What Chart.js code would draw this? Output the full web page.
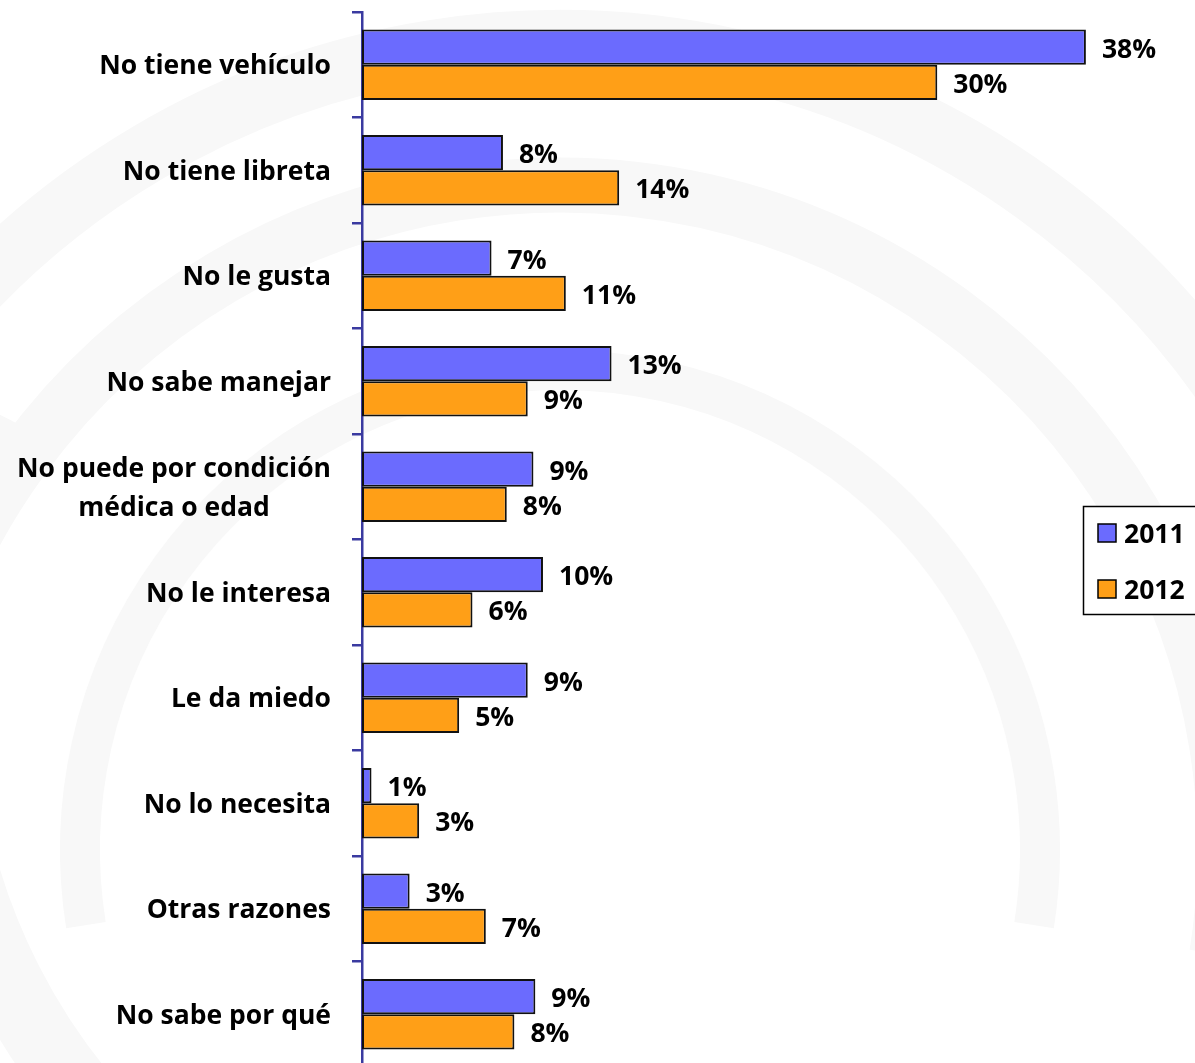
<!DOCTYPE html>
<html>
<head>
<meta charset="utf-8">
<script src="https://cdn.jsdelivr.net/npm/chart.js@4.4.0/dist/chart.umd.min.js"></script>
<style>
  html, body { margin: 0; padding: 0; background: #ffffff; overflow: hidden; }
  #wrap { width: 1195px; height: 1063px; overflow: hidden; position: relative; }
  canvas { display: block; }
</style>
</head>
<body>
<div id="wrap"><canvas id="c" width="1195" height="1070"></canvas></div>
<script>
const categories = [
  'No tiene vehículo',
  'No tiene libreta',
  'No le gusta',
  'No sabe manejar',
  ['No puede por condición', 'médica o edad'],
  'No le interesa',
  'Le da miedo',
  'No lo necesita',
  'Otras razones',
  'No sabe por qué'
];
const seriesNames = ['2011', '2012'];
const values2011 = [38.0, 7.4, 6.8, 13.1, 9.0, 9.5, 8.7, 0.5, 2.5, 9.1];
const values2012 = [30.2, 13.5, 10.7, 8.7, 7.6, 5.8, 5.1, 3.0, 6.5, 8.0];
const labels2011 = ['38%', '8%', '7%', '13%', '9%', '10%', '9%', '1%', '3%', '9%'];
const labels2012 = ['30%', '14%', '11%', '9%', '8%', '6%', '5%', '3%', '7%', '8%'];

const FONT = '"Open Sans", Lato, sans-serif';
const FSIZE = 26.5;

const background = {
  id: 'background',
  beforeDraw(chart) {
    const ctx = chart.ctx;
    ctx.save();
    ctx.fillStyle = '#ffffff';
    ctx.fillRect(0, 0, chart.width, chart.height);
    ctx.strokeStyle = '#f8f8f8';
    const cx = 560, cy = 850;
    [[480, 40], [665, 55], [810, 60]].forEach(([r, w]) => {
      ctx.lineWidth = w;
      ctx.beginPath(); ctx.arc(cx, cy, r, Math.PI * 0.95, Math.PI * 2.05); ctx.stroke();
    });
    ctx.lineWidth = 70;
    ctx.beginPath(); ctx.arc(560, 700, 620, Math.PI * 0.6, Math.PI * 1.15); ctx.stroke();
    ctx.restore();
  }
};

const categoryLabels = {
  id: 'categoryLabels',
  afterDraw(chart) {
    const ctx = chart.ctx;
    const y = chart.scales.y;
    const right = y.right - 31;
    ctx.save();
    ctx.font = 'bold ' + FSIZE + 'px ' + FONT;
    ctx.fillStyle = '#000000';
    ctx.textAlign = 'center';
    ctx.textBaseline = 'middle';
    const lh = 39;
    categories.forEach((lab, i) => {
      const lines = Array.isArray(lab) ? lab : [lab];
      const w = Math.max(...lines.map(l => ctx.measureText(l).width));
      const cx = right - w / 2;
      const cy = y.getPixelForValue(i) + 2;
      lines.forEach((l, k) => {
        ctx.fillText(l, cx, cy + (k - (lines.length - 1) / 2) * lh);
      });
    });
    ctx.restore();
  }
};

const valueLabels = {
  id: 'valueLabels',
  afterDatasetsDraw(chart) {
    const ctx = chart.ctx;
    const texts = [labels2011, labels2012];
    ctx.save();
    ctx.font = 'bold ' + FSIZE + 'px ' + FONT;
    ctx.fillStyle = '#000000';
    ctx.textAlign = 'left';
    ctx.textBaseline = 'middle';
    chart.data.datasets.forEach((ds, di) => {
      const meta = chart.getDatasetMeta(di);
      meta.data.forEach((el, i) => {
        ctx.fillText(texts[di][i], el.x + 16, el.y + 3);
      });
    });
    ctx.restore();
  }
};

const boxLegend = {
  id: 'boxLegend',
  afterDraw(chart) {
    const ctx = chart.ctx;
    ctx.save();
    ctx.fillStyle = '#ffffff';
    ctx.fillRect(1084, 507, 120, 107);
    ctx.strokeStyle = '#000000';
    ctx.lineWidth = 1.5;
    ctx.strokeRect(1083.5, 506.5, 130, 108);
    ctx.font = 'bold ' + FSIZE + 'px ' + FONT;
    ctx.textAlign = 'left';
    ctx.textBaseline = 'middle';
    const rows = [533, 589];
    chart.data.datasets.forEach((ds, i) => {
      const cy = rows[i];
      ctx.fillStyle = ds.backgroundColor;
      ctx.fillRect(1098, cy - 9, 18, 18);
      ctx.strokeStyle = '#000000';
      ctx.lineWidth = 1.5;
      ctx.strokeRect(1098, cy - 9, 18, 18);
      ctx.fillStyle = '#000000';
      ctx.fillText(ds.label, 1124, cy + 2);
    });
    ctx.restore();
  }
};

new Chart(document.getElementById('c'), {
  type: 'bar',
  data: {
    labels: categories,
    datasets: [
      { label: seriesNames[0], data: values2011, backgroundColor: '#6B6BFE', borderColor: '#111111', borderWidth: 2, borderSkipped: false },
      { label: seriesNames[1], data: values2012, backgroundColor: '#FF9F17', borderColor: '#111111', borderWidth: 2, borderSkipped: false }
    ]
  },
  options: {
    indexAxis: 'y',
    responsive: false,
    animation: false,
    layout: { padding: { left: 0, right: 71, top: 12, bottom: 3 } },
    datasets: { bar: { categoryPercentage: 0.67, barPercentage: 1.0 } },
    plugins: {
      legend: { display: false },
      tooltip: { enabled: false }
    },
    scales: {
      x: { display: false, min: 0, max: 40 },
      y: {
        z: 1,
        ticks: { display: false },
        grid: { display: true, drawOnChartArea: false, drawTicks: true, tickLength: 10, color: '#3A3AA0', lineWidth: 2.5, offset: true },
        border: { display: true, color: '#3A3AA0', width: 2.5 },
        afterFit(scale) { scale.width = 362; }
      }
    }
  },
  plugins: [background, categoryLabels, valueLabels, boxLegend]
});
</script>
</body>
</html>
